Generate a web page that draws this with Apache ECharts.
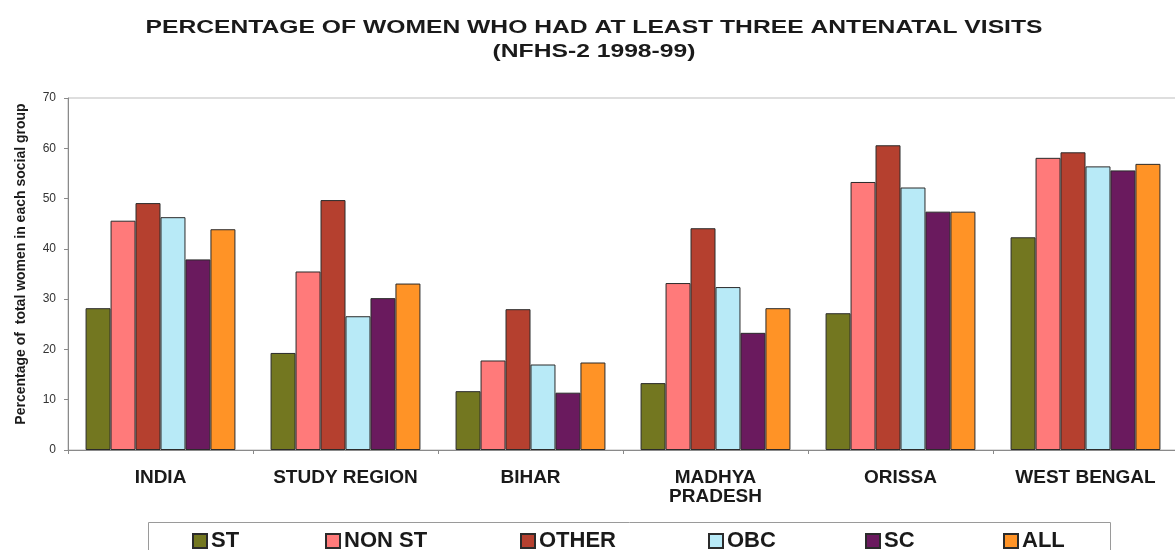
<!DOCTYPE html>
<html>
<head>
<meta charset="utf-8">
<script src="https://cdn.jsdelivr.net/npm/echarts@6/dist/echarts.min.js"></script>
<style>
  html, body { margin: 0; padding: 0; background: #fff; }
  #myChart { width: 1175px; height: 550px; }
</style>
</head>
<body>
<div id="myChart"></div>
<script>
// 数据
var categories = ['INDIA', 'STUDY REGION', 'BIHAR', 'MADHYA\nPRADESH', 'ORISSA', 'WEST BENGAL']
var seriesNames = ['ST', 'NON ST', 'OTHER', 'OBC', 'SC', 'ALL']
var stData = [28.2, 19.3, 11.7, 13.3, 27.2, 42.3]
var nonStData = [45.6, 35.5, 17.8, 33.2, 53.3, 58.1]
var otherData = [49.1, 49.7, 28.0, 44.1, 60.6, 59.2]
var obcData = [46.3, 26.6, 17.0, 32.4, 52.2, 56.4]
var scData = [37.9, 30.2, 11.4, 23.3, 47.4, 55.6]
var allData = [43.9, 33.1, 17.4, 28.2, 47.4, 56.9]
var yMin = 0
var yMax = 70
var yStep = 10
var titleText = 'PERCENTAGE OF WOMEN WHO HAD AT LEAST THREE ANTENATAL VISITS\n(NFHS-2 1998-99)'

var colors = ['#737720', '#ff7a7a', '#b5402f', '#b8eaf7', '#6a1a5e', '#ff9326']
var fontFamily = '"Liberation Sans", Arial, sans-serif'
// 图例每项的横向位置
var legendLeft = [192, 325, 520, 708, 865, 1003]

var initBarOption = function() {
  var allSeries = [stData, nonStData, otherData, obcData, scData, allData]
  var series = []
  var legends = []
  for (var i = 0; i < seriesNames.length; i++) {
    series.push({
      name: seriesNames[i],
      type: 'bar',
      barGap: '0%',
      barCategoryGap: '19%',
      itemStyle: {
        color: colors[i],
        borderColor: '#2b2b2b',
        borderWidth: 1
      },
      data: allSeries[i]
    })
    legends.push({
      data: [seriesNames[i]],
      icon: 'rect',
      left: legendLeft[i],
      top: 530,
      padding: 0,
      itemWidth: 14,
      itemHeight: 14,
      itemGap: 5,
      selectedMode: false,
      textStyle: {
        fontFamily: fontFamily,
        fontWeight: 'bold',
        fontSize: 22,
        color: '#1a1a1a',
        padding: [0, 0, 0, -1]
      }
    })
  }

  var option = {
    animation: false,
    legend: legends,
    graphic: [{
      // 标题（原图文字横向拉宽）
      type: 'text',
      x: 594,
      y: 16,
      scaleX: 1.37,
      silent: true,
      style: {
        text: titleText,
        align: 'center',
        verticalAlign: 'top',
        fontFamily: fontFamily,
        fontWeight: 'bold',
        fontSize: 18,
        lineHeight: 24,
        fill: '#1a1a1a'
      }
    }, {
      type: 'rect',
      shape: { x: 148.5, y: 522.5, width: 962, height: 40 },
      style: { fill: 'none', stroke: '#9a9a9a', lineWidth: 1 },
      silent: true
    }],
    grid: {
      show: true,
      left: 68,
      width: 1110,
      top: 98,
      bottom: 100,
      containLabel: false,
      outerBoundsMode: 'none',
      borderColor: '#bdbdbd',
      borderWidth: 1
    },
    xAxis: {
      type: 'category',
      data: categories,
      axisLine: { show: true, lineStyle: { color: '#8a8a8a' } },
      axisTick: { show: true, length: 4, lineStyle: { color: '#8a8a8a' } },
      axisLabel: {
        interval: 0,
        margin: 18,
        fontFamily: fontFamily,
        fontWeight: 'bold',
        fontSize: 19,
        lineHeight: 19,
        color: '#1a1a1a'
      }
    },
    yAxis: {
      type: 'value',
      min: yMin,
      max: yMax,
      interval: yStep,
      name: 'Percentage of  total women in each social group',
      nameLocation: 'middle',
      nameGap: 40,
      nameTextStyle: {
        fontFamily: fontFamily,
        fontWeight: 'bold',
        fontSize: 14,
        color: '#1a1a1a',
        padding: [0, 0, 0, 20]
      },
      axisLine: { show: true, lineStyle: { color: '#8a8a8a' } },
      axisTick: { show: true, length: 4, lineStyle: { color: '#8a8a8a' } },
      splitLine: { show: false },
      axisLabel: {
        margin: 12,
        fontFamily: fontFamily,
        fontSize: 12,
        color: '#333'
      }
    },
    series: series
  }
  return option
}

var chart = echarts.init(document.getElementById('myChart'))
chart.setOption(initBarOption())
</script>
</body>
</html>
